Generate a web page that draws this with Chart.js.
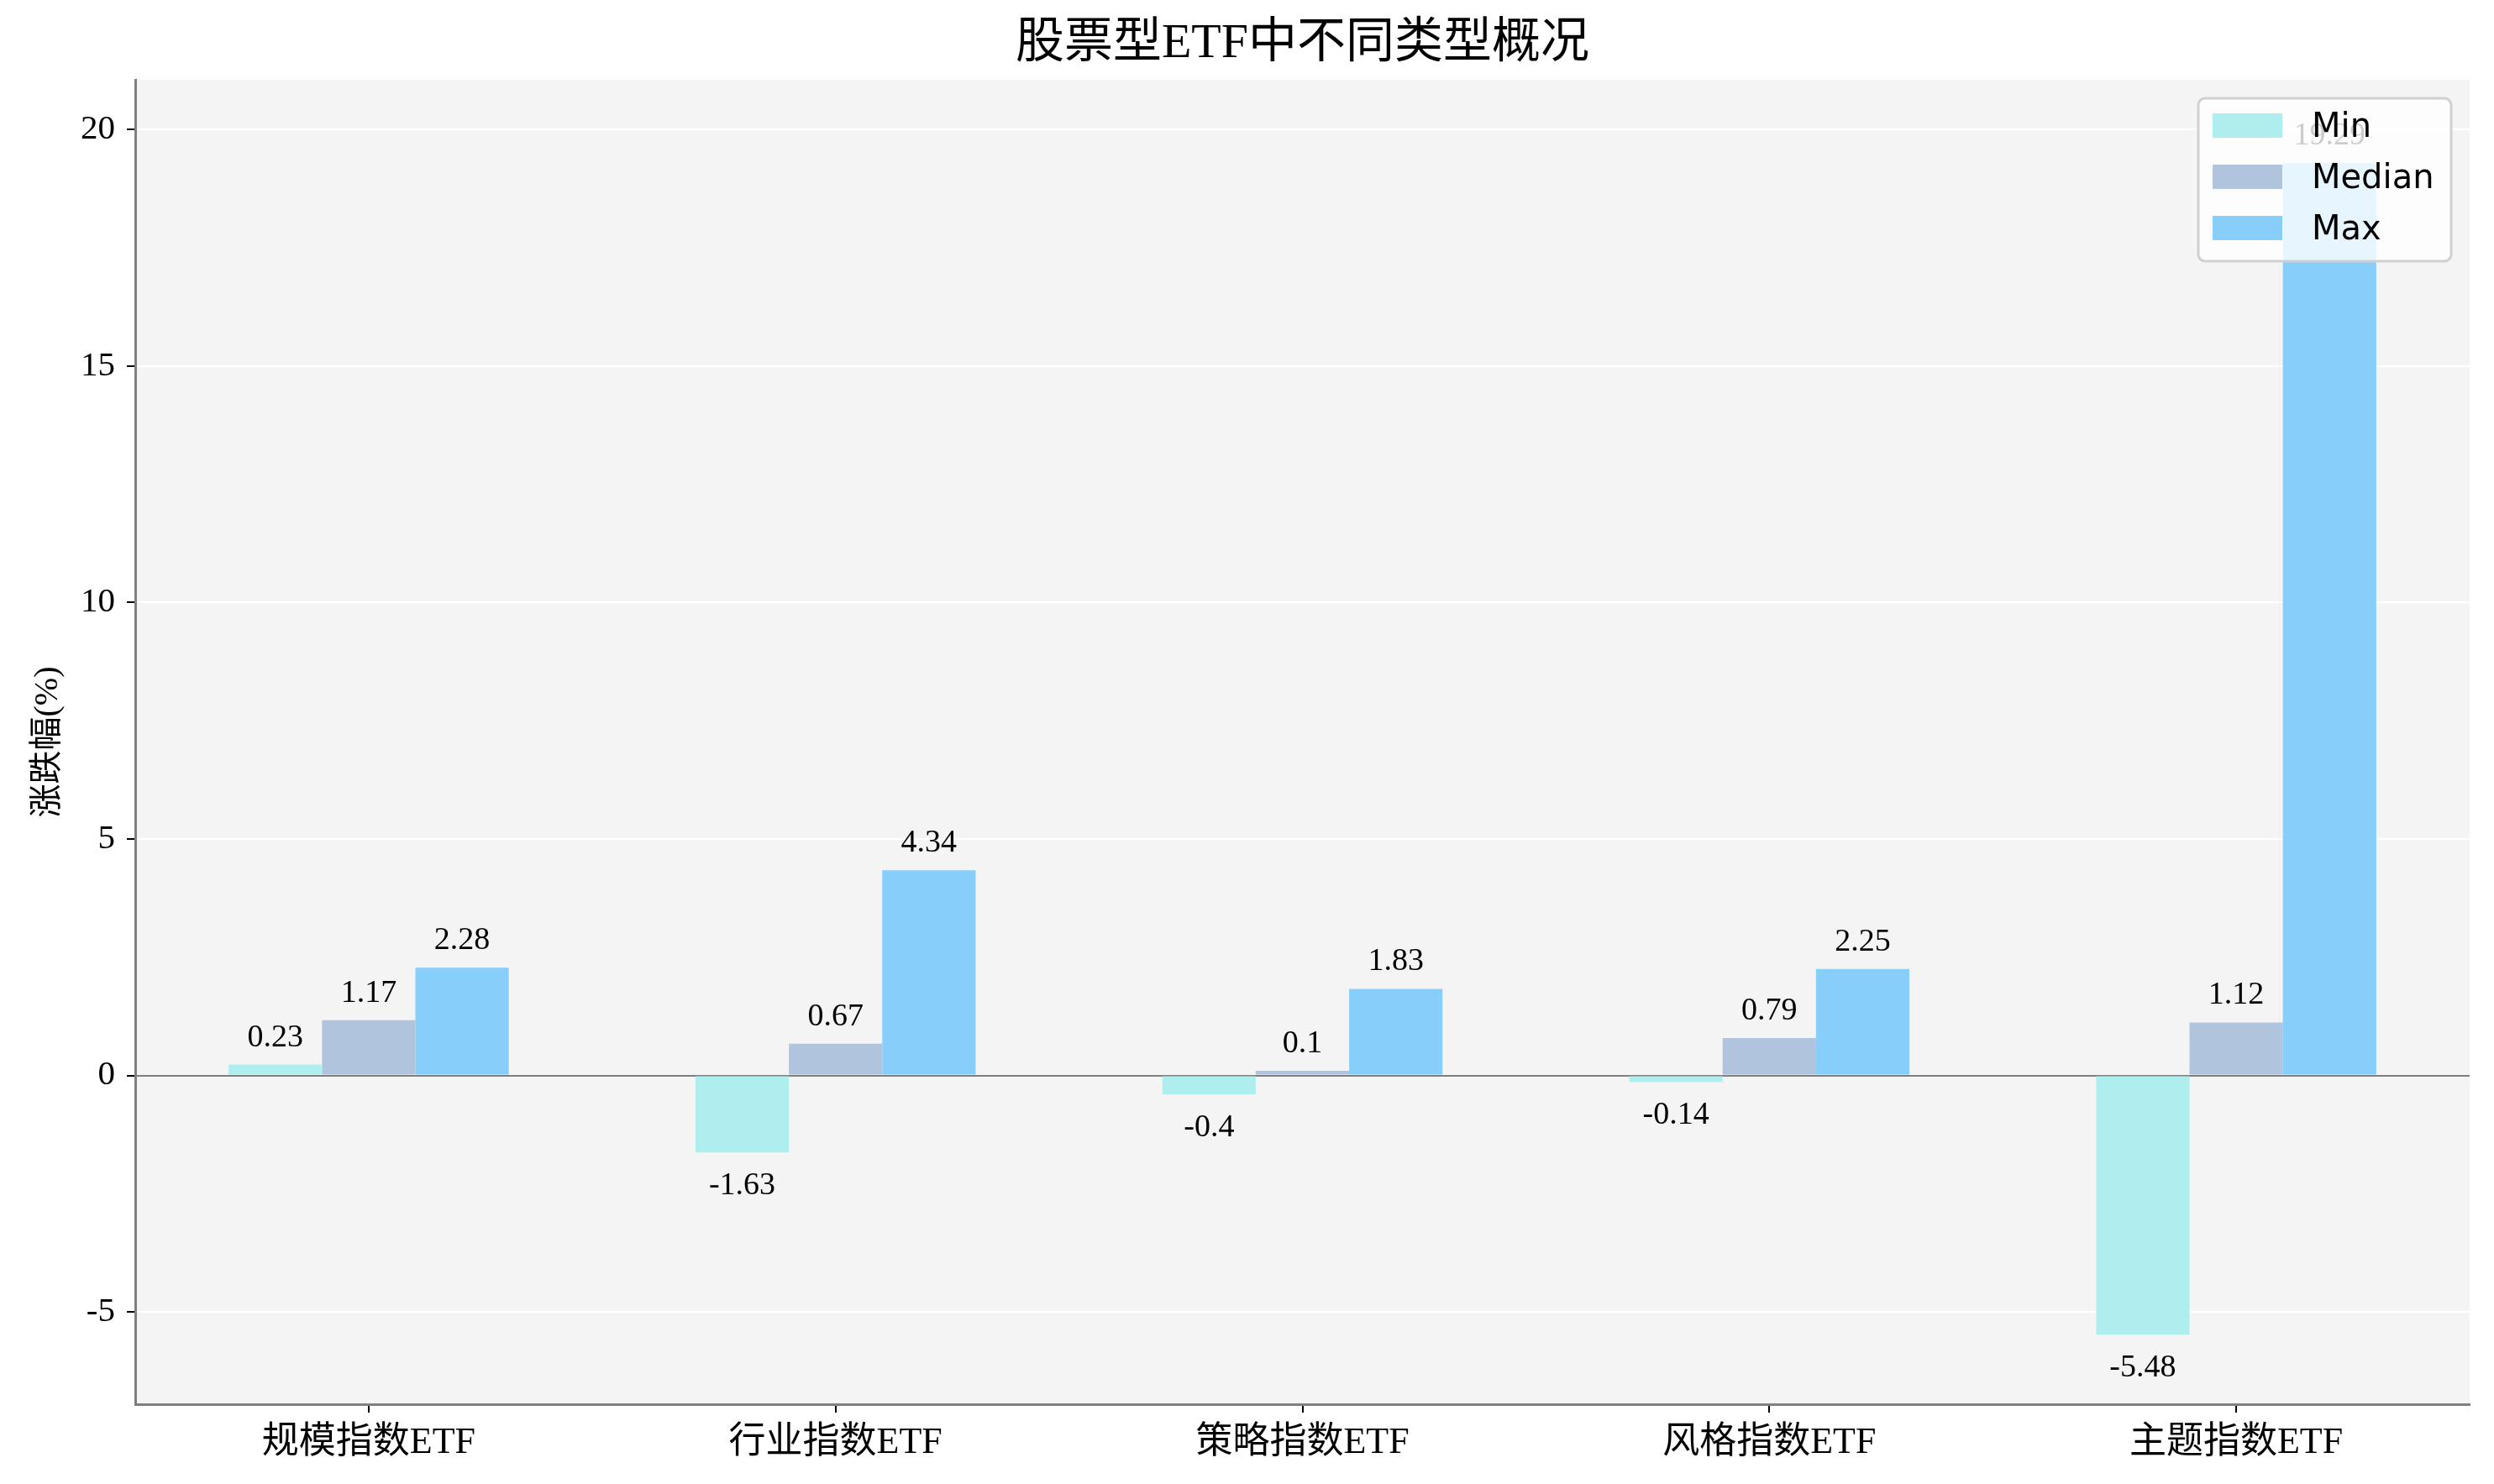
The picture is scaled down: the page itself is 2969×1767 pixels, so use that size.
<!DOCTYPE html>
<html lang="zh">
<head>
  <meta charset="UTF-8">
  <title>股票型ETF中不同类型概况</title>
  <script src="https://cdn.jsdelivr.net/npm/chart.js"></script>
  <style>
    * { margin: 0; padding: 0; box-sizing: border-box; }
    body { background: #ffffff; width: 2969px; height: 1767px; overflow: hidden; }
    #wrap { width: 2969px; height: 1767px; }
  </style>
</head>
<body>
  <div id="wrap"><canvas id="chart" width="2969" height="1767"></canvas></div>

  <script>
    const categories = ['规模指数ETF', '行业指数ETF', '策略指数ETF', '风格指数ETF', '主题指数ETF'];
    const minValues = [0.23, -1.63, -0.4, -0.14, -5.48];
    const medianValues = [1.17, 0.67, 0.1, 0.79, 1.12];
    const maxValues = [2.28, 4.34, 1.83, 2.25, 19.29];
    const seriesNames = ['Min', 'Median', 'Max'];
    const seriesColors = ['#afeeee', '#b0c4de', '#87cefa'];

    const serif = "'Liberation Serif', 'Noto Sans CJK SC', serif";

    // plot background
    const bgPlugin = {
      id: 'plotBg',
      beforeDraw(chart) {
        const { ctx, chartArea: a } = chart;
        ctx.save();
        ctx.fillStyle = '#f4f4f4';
        ctx.fillRect(a.left, a.top, a.right - a.left, a.bottom - a.top);
        ctx.restore();
      }
    };

    // title + y axis title
    const textPlugin = {
      id: 'texts',
      afterDraw(chart) {
        const { ctx, chartArea: a } = chart;
        ctx.save();
        ctx.fillStyle = '#000';
        ctx.textAlign = 'center';
        ctx.textBaseline = 'middle';
        ctx.font = '58px ' + serif;
        ctx.fillText('股票型ETF中不同类型概况', (a.left + a.right) / 2, 53);
        ctx.translate(57, (a.top + a.bottom) / 2);
        ctx.rotate(-Math.PI / 2);
        ctx.font = '40px ' + serif;
        ctx.fillText('涨跌幅(%)', 0, 0);
        ctx.restore();
      }
    };

    // value labels on bars
    const labelPlugin = {
      id: 'valueLabels',
      afterDatasetsDraw(chart) {
        const { ctx } = chart;
        ctx.save();
        ctx.fillStyle = '#000';
        ctx.font = '38px ' + serif;
        ctx.textAlign = 'center';
        ctx.textBaseline = 'middle';
        chart.data.datasets.forEach((ds, i) => {
          chart.getDatasetMeta(i).data.forEach((bar, j) => {
            const v = ds.data[j];
            const y = v >= 0 ? bar.y - 32 : bar.y + 40;
            ctx.fillText(String(v), bar.x, y);
          });
        });
        ctx.restore();
      }
    };

    // legend box inside the plot, upper right
    const legendPlugin = {
      id: 'boxLegend',
      afterDraw(chart) {
        const { ctx, chartArea: a } = chart;
        const w = 301, h = 194;
        const x = a.right - 22 - w, y = a.top + 22;
        ctx.save();
        ctx.beginPath();
        ctx.roundRect(x, y, w, h, 8);
        ctx.fillStyle = 'rgba(255,255,255,0.8)';
        ctx.fill();
        ctx.lineWidth = 3;
        ctx.strokeStyle = '#d0d0d0';
        ctx.stroke();
        ctx.font = '40px "DejaVu Sans"';
        ctx.textBaseline = 'middle';
        ctx.textAlign = 'left';
        seriesNames.forEach((name, i) => {
          const cy = y + 32 + i * 61;
          ctx.fillStyle = seriesColors[i];
          ctx.fillRect(x + 17, cy - 14, 83, 29);
          ctx.fillStyle = '#000';
          ctx.fillText(name, x + 135, cy + 4);
        });
        ctx.restore();
      }
    };

    const seriesValues = [minValues, medianValues, maxValues];

    new Chart(document.getElementById('chart'), {
      type: 'bar',
      data: {
        labels: categories,
        datasets: seriesNames.map((name, i) => ({
          label: name,
          data: seriesValues[i],
          backgroundColor: seriesColors[i],
          borderWidth: 0,
          categoryPercentage: 0.6,
          barPercentage: 1.0
        }))
      },
      options: {
        responsive: false,
        animation: false,
        devicePixelRatio: 1,
        layout: { padding: { top: 95, right: 29, left: 0, bottom: 0 } },
        plugins: {
          legend: { display: false },
          title: { display: false },
          tooltip: { enabled: false }
        },
        scales: {
          x: {
            offset: true,
            border: { color: '#808080', width: 3 },
            grid: {
              offset: false,
              drawOnChartArea: false,
              drawTicks: true,
              tickLength: 10,
              tickColor: '#000',
              lineWidth: 2
            },
            ticks: {
              color: '#000',
              padding: 10,
              maxRotation: 0,
              font: { family: serif, size: 44 }
            },
            afterFit(scale) { scale.height = 95; }
          },
          y: {
            min: -6.95,
            max: 21.05,
            border: { color: '#808080', width: 3 },
            grid: {
              color: ctx => (ctx.tick && ctx.tick.value === 0) ? '#808080' : '#ffffff',
              lineWidth: 2,
              tickLength: 10,
              tickColor: '#000'
            },
            ticks: {
              stepSize: 5,
              includeBounds: false,
              color: '#000',
              padding: 14,
              font: { family: serif, size: 41 },
              callback: v => String(v)
            },
            afterFit(scale) { scale.width = 161; }
          }
        }
      },
      plugins: [bgPlugin, labelPlugin, legendPlugin, textPlugin]
    });
  </script>
</body>
</html>
